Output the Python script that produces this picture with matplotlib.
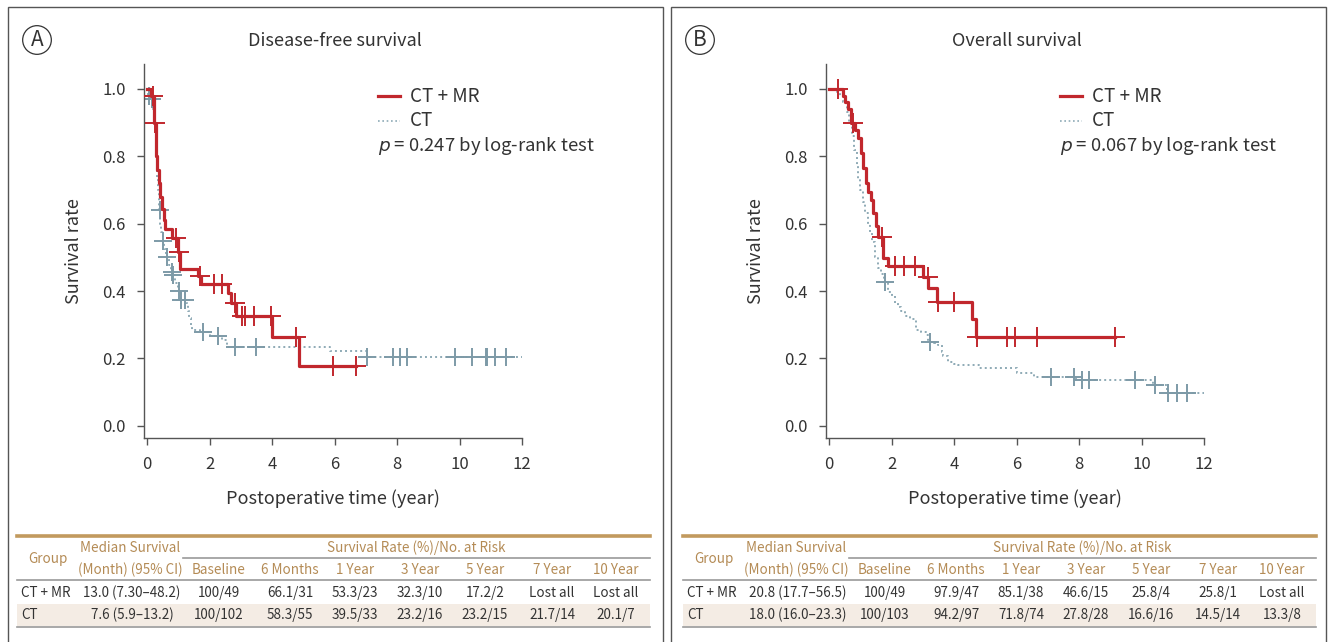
import numpy as np
import matplotlib.pyplot as plt
from matplotlib.lines import Line2D
from matplotlib.patches import Rectangle

plt.rcParams['font.family'] = ['Noto Sans CJK JP', 'DejaVu Sans']

W, H = 1330, 642
RED = '#c1272d'
BLUE = '#8eaab6'
BLUE_MK = '#7d9aa7'
TAN = '#b48b55'
GOLD = '#c29a5e'
TXT = '#333333'

# ---- Disease-free survival (panel A) ----
dfs_mr_t = [0.13, 0.21, 0.29, 0.33, 0.37, 0.42, 0.47, 0.53, 0.58, 0.79, 1.00, 1.06,
            1.64, 1.72, 2.60, 2.70, 2.85, 4.00, 4.86]
dfs_mr_s = [0.98, 0.90, 0.80, 0.76, 0.72, 0.68, 0.645, 0.61, 0.585, 0.558, 0.516, 0.467,
            0.445, 0.42, 0.394, 0.364, 0.327, 0.263, 0.179]
dfs_mr_cens = [0.18, 0.25, 0.92, 1.03, 1.70, 2.13, 2.39, 2.80, 3.05, 3.14, 3.41, 3.97,
               4.75, 5.96, 6.69]

dfs_ct_t = [0.02, 0.04, 0.10, 0.16, 0.20, 0.24, 0.27, 0.29, 0.31, 0.33, 0.35, 0.37, 0.39,
            0.41, 0.45, 0.50, 0.55, 0.61, 0.70, 0.75, 0.80, 0.88, 0.98, 1.07, 1.25, 1.30,
            1.35, 1.40, 1.45, 1.70, 2.00, 2.40, 2.55, 5.86, 7.03]
dfs_ct_s = [0.99, 0.98, 0.97, 0.96, 0.94, 0.90, 0.86, 0.82, 0.78, 0.74, 0.70, 0.67, 0.64,
            0.60, 0.575, 0.55, 0.525, 0.50, 0.478, 0.456, 0.447, 0.425, 0.40, 0.375, 0.365,
            0.34, 0.32, 0.30, 0.285, 0.278, 0.268, 0.255, 0.235, 0.222, 0.203]
dfs_ct_cens = [0.06, 0.15, 0.40, 0.52, 0.65, 0.79, 0.82, 1.03, 1.10, 1.22, 1.80, 2.28,
               2.82, 3.50, 7.03, 7.88, 8.11, 8.31, 9.86, 10.40, 10.85, 10.89, 11.14, 11.49]

# ---- Overall survival (panel B) ----
os_mr_t = [0.46, 0.51, 0.62, 0.70, 0.83, 0.93, 1.02, 1.09, 1.17, 1.26, 1.35, 1.42, 1.49,
           1.57, 1.73, 1.89, 3.00, 3.18, 3.46, 4.57, 4.70]
os_mr_s = [0.98, 0.96, 0.94, 0.90, 0.877, 0.854, 0.81, 0.766, 0.72, 0.695, 0.67, 0.631,
           0.592, 0.562, 0.497, 0.473, 0.443, 0.408, 0.369, 0.317, 0.263]
os_mr_cens = [0.28, 0.78, 1.68, 2.10, 2.40, 2.74, 3.17, 3.50, 4.01, 4.74, 5.68, 5.96,
              6.65, 9.16]

os_ct_t = [0.25, 0.35, 0.45, 0.56, 0.64, 0.72, 0.80, 0.88, 0.93, 1.00, 1.08, 1.15, 1.23,
           1.31, 1.38, 1.46, 1.55, 1.65, 1.75, 1.89, 2.00, 2.10, 2.21, 2.30, 2.42, 2.60,
           2.79, 2.95, 3.11, 3.18, 3.35, 3.49, 3.60, 3.65, 3.80, 4.00, 4.12, 4.81, 6.03,
           6.56, 7.90, 10.38, 10.81]
os_ct_s = [0.99, 0.98, 0.96, 0.933, 0.90, 0.86, 0.82, 0.77, 0.73, 0.70, 0.665, 0.631, 0.60,
           0.572, 0.545, 0.50, 0.47, 0.45, 0.428, 0.398, 0.385, 0.365, 0.354, 0.34, 0.325,
           0.318, 0.285, 0.28, 0.27, 0.25, 0.245, 0.24, 0.22, 0.206, 0.191, 0.185, 0.181,
           0.171, 0.158, 0.146, 0.136, 0.122, 0.099]
os_ct_cens = [1.78, 3.22, 7.10, 7.85, 8.10, 8.32, 9.80, 10.44, 10.86, 11.12, 11.44]

# ---- tables ----
col_heads = ['Baseline', '6 Months', '1 Year', '3 Year', '5 Year', '7 Year', '10 Year']
groups = ['CT + MR', 'CT']
dfs_median = ['13.0 (7.30\u201348.2)', '7.6 (5.9\u201313.2)']
dfs_rows = [['100/49', '66.1/31', '53.3/23', '32.3/10', '17.2/2', 'Lost all', 'Lost all'],
            ['100/102', '58.3/55', '39.5/33', '23.2/16', '23.2/15', '21.7/14', '20.1/7']]
os_median = ['20.8 (17.7\u201356.5)', '18.0 (16.0\u201323.3)']
os_rows = [['100/49', '97.9/47', '85.1/38', '46.6/15', '25.8/4', '25.8/1', 'Lost all'],
           ['100/103', '94.2/97', '71.8/74', '27.8/28', '16.6/16', '14.5/14', '13.3/8']]


def fx(x):
    return x / W


def fy(y):
    return 1 - y / H


def step_value(times, surv, t):
    idx = np.searchsorted(times, t, side='right')
    return np.r_[1.0, surv][idx]


def km(ax, times, surv, cens, end, color, mcolor, ls, lw, ms):
    t = np.r_[0, times, end]
    s = np.r_[1.0, surv, surv[-1]]
    ax.step(t, s, where='post', color=color, ls=ls, lw=lw, zorder=3 if lw > 2 else 2)
    ys = [step_value(times, surv, c) for c in cens]
    ax.plot(cens, ys, ls='none', marker='+', ms=ms, mew=1.4, color=mcolor,
            zorder=4 if lw > 2 else 2)


def panel(x0, dx, tdx, letter, title, mr, ct, mr_end, pval, median, rows):
    # frame
    fig.add_artist(Rectangle((fx(x0), fy(660)), fx(655), fy(7) - fy(660),
                             transform=fig.transFigure, fill=False, ec='#555555', lw=1.0))
    fig.text(fx(x0 + 29), fy(40), letter, ha='center', va='center', fontsize=15,
             color=TXT, bbox=dict(boxstyle='circle,pad=0.16', fc='none', ec=TXT, lw=0.9))
    fig.text(fx(dx + 335), fy(41), title, ha='center', va='center', fontsize=13, color=TXT)

    ax = fig.add_axes([fx(dx + 144), fy(438), fx(378), fy(64) - fy(438)])
    km(ax, *ct, 12.0, BLUE, BLUE_MK, (0, (1, 1.6)), 1.4, 13)
    km(ax, *mr, mr_end, RED, RED, '-', 2.3, 15)
    ax.set_xlim(-0.1, 12.0)
    ax.set_ylim(-0.036, 1.074)
    ax.set_xticks(np.arange(0, 13, 2))
    ax.set_yticks(np.arange(0, 1.01, 0.2))
    ax.set_yticklabels([f'{v:.1f}' for v in np.arange(0, 1.01, 0.2)])
    for side in ['top', 'right']:
        ax.spines[side].set_visible(False)
    for side in ['left', 'bottom']:
        ax.spines[side].set_color('#555555')
        ax.spines[side].set_linewidth(1.0)
    ax.tick_params(direction='out', length=5, width=1.0, color='#555555',
                   labelsize=12, labelcolor=TXT, pad=8)
    ax.set_ylabel('Survival rate', fontsize=13, color=TXT, labelpad=14)
    ax.set_xlabel('Postoperative time (year)', fontsize=13, color=TXT, labelpad=12)

    # legend
    lx = dx + 378
    fig.add_artist(Line2D([fx(lx), fx(lx + 22)], [fy(96), fy(96)], color=RED, lw=2.3,
                          transform=fig.transFigure))
    fig.add_artist(Line2D([fx(lx), fx(lx + 22)], [fy(121), fy(121)], color=BLUE, lw=1.2,
                          ls=(0, (1, 1.6)), transform=fig.transFigure))
    fig.text(fx(lx + 32), fy(96), 'CT + MR', va='center', fontsize=13.5, color=TXT)
    fig.text(fx(lx + 32), fy(121), 'CT', va='center', fontsize=13.5, color=TXT)
    fig.text(fx(lx), fy(146), f'$p$ = {pval} by log-rank test', va='center',
             fontsize=13.3, color=TXT)

    # table
    tl, tr = tdx + 17, tdx + 650
    span_l = tdx + 183
    cols = [tdx + c for c in (219, 290, 355, 420, 485, 552, 616)]
    fig.add_artist(Rectangle((fx(tl), fy(626)), fx(tr - tl), fy(604) - fy(626),
                             transform=fig.transFigure, fc='#f4ece4', ec='none'))
    fig.add_artist(Line2D([fx(tl), fx(tr)], [fy(536), fy(536)], color=GOLD, lw=2.6,
                          transform=fig.transFigure))
    fig.add_artist(Line2D([fx(span_l), fx(tr)], [fy(558), fy(558)], color='#9a9a9a',
                          lw=1.2, transform=fig.transFigure))
    fig.add_artist(Line2D([fx(tl), fx(tr)], [fy(580), fy(580)], color='#9a9a9a', lw=1.2,
                          transform=fig.transFigure))
    fig.add_artist(Line2D([fx(tl), fx(tr)], [fy(626.5), fy(626.5)], color='#9a9a9a',
                          lw=1.2, transform=fig.transFigure))
    fs = 9.7
    fig.text(fx(tdx + 48), fy(559), 'Group', ha='center', va='center', fontsize=fs, color=TAN)
    fig.text(fx(tdx + 130), fy(548), 'Median Survival', ha='center', va='center',
             fontsize=fs, color=TAN)
    fig.text(fx(tdx + 130), fy(570), '(Month) (95% CI)', ha='center', va='center',
             fontsize=fs, color=TAN)
    fig.text(fx((span_l + tr) / 2), fy(548), 'Survival Rate (%)/No. at Risk',
             ha='center', va='center', fontsize=fs, color=TAN)
    for cx, head in zip(cols, col_heads):
        fig.text(fx(cx), fy(570), head, ha='center', va='center', fontsize=fs, color=TAN)
    for ry, grp, med, row in zip((593, 615), groups, median, rows):
        fig.text(fx(tl + 4), fy(ry), grp, ha='left', va='center', fontsize=fs, color=TXT)
        fig.text(fx(tdx + 132), fy(ry), med, ha='center', va='center', fontsize=fs,
                 color=TXT)
        for cx, val in zip(cols, row):
            fig.text(fx(cx), fy(ry), val, ha='center', va='center', fontsize=fs,
                     color=TXT)
    return ax


fig = plt.figure(figsize=(W / 100, H / 100), dpi=100)
panel(8, 0, 0, 'A', 'Disease-free survival',
      (dfs_mr_t, dfs_mr_s, dfs_mr_cens), (dfs_ct_t, dfs_ct_s, dfs_ct_cens),
      6.69, '0.247', dfs_median, dfs_rows)
panel(671, 682, 666, 'B', 'Overall survival',
      (os_mr_t, os_mr_s, os_mr_cens), (os_ct_t, os_ct_s, os_ct_cens),
      9.16, '0.067', os_median, os_rows)

fig.savefig('out.png', dpi=100)
